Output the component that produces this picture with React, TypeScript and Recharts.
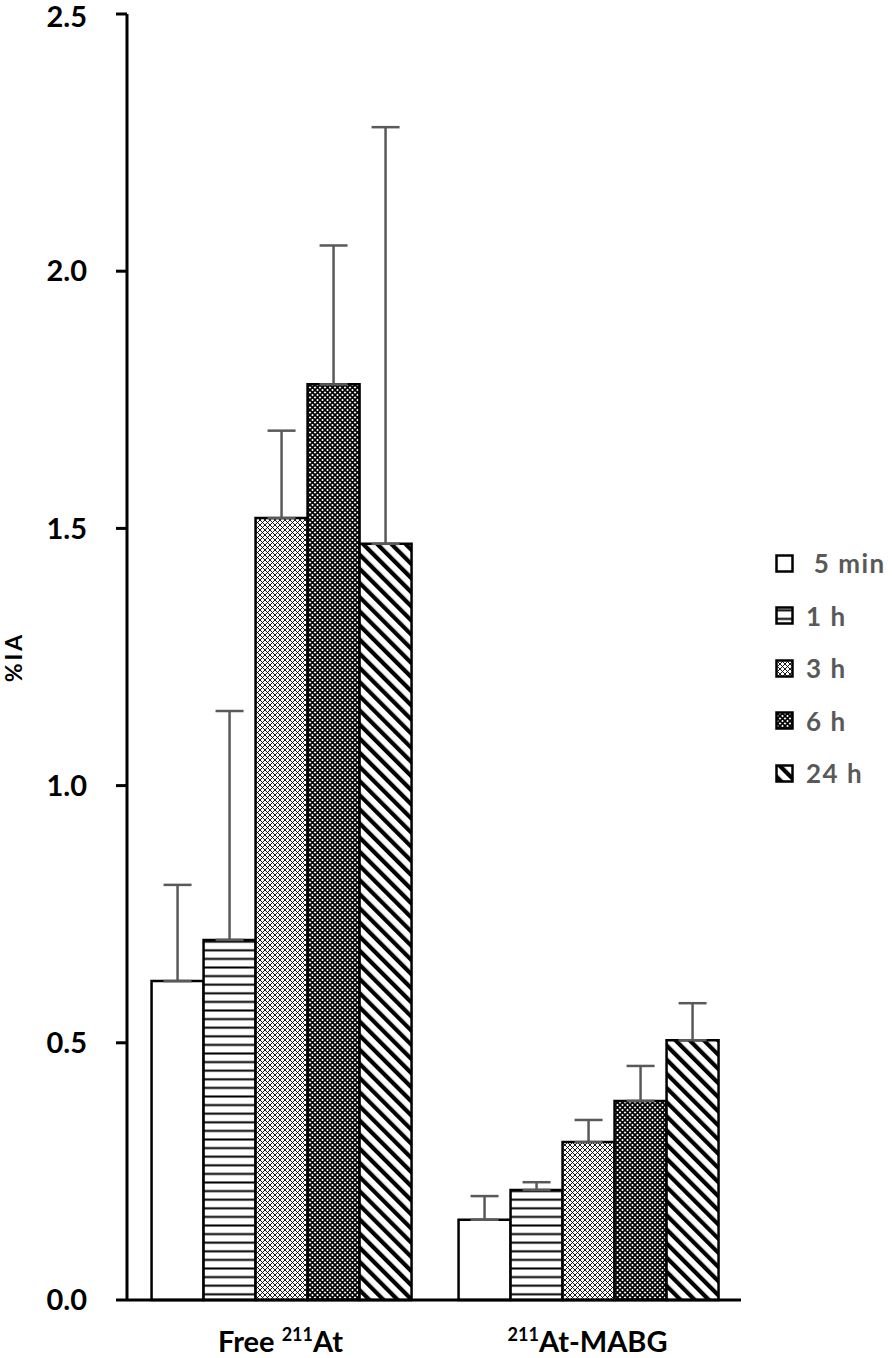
import React from 'react';
import { BarChart, Bar, XAxis, YAxis, ErrorBar } from 'recharts';

const categories = ['Free', 'MABG'];
const categoryPrefix = ['Free ', ''];
const categorySup = ['211', '211'];
const categorySuffix = ['At', 'At-MABG'];

const seriesNames = [' 5 min', '1 h', '3 h', '6 h', '24 h'];
const seriesKeys = ['m5', 'h1', 'h3', 'h6', 'h24'];

const m5 = [0.62, 0.156];
const h1 = [0.70, 0.214];
const h3 = [1.52, 0.307];
const h6 = [1.78, 0.387];
const h24 = [1.47, 0.505];

const m5Err = [0.187, 0.046];
const h1Err = [0.445, 0.015];
const h3Err = [0.17, 0.043];
const h6Err = [0.27, 0.068];
const h24Err = [0.81, 0.072];

const yTicks = [0, 0.5, 1.0, 1.5, 2.0, 2.5];

const fills = ['#ffffff', 'url(#pHlines)', 'url(#pLight)', 'url(#pDark)', 'url(#pDiag)'];

const valueArrays = [m5, h1, h3, h6, h24];
const errArrays = [m5Err, h1Err, h3Err, h6Err, h24Err];

const data = categories.map((c, i) => {
  const row: any = { name: c, idx: i };
  seriesKeys.forEach((k, s) => {
    row[k] = valueArrays[s][i];
    row[k + 'Err'] = [0, errArrays[s][i]];
  });
  return row;
});

const FONT = 'Lato, "Open Sans", sans-serif';

const Patterns = () => (
  <svg width={0} height={0} style={{ position: 'absolute' }}>
    <defs>
      <pattern id="pHlines" patternUnits="userSpaceOnUse" width={8} height={8.6}>
        <rect width={8} height={8.6} fill="#fff" />
        <rect y={3.3} width={8} height={2} fill="#000" />
      </pattern>
      <pattern id="pLight" patternUnits="userSpaceOnUse" width={5} height={5}>
        <rect width={5} height={5} fill="#fff" />
        <path d="M0,0 L5,5 M5,0 L0,5" stroke="#000" strokeWidth={0.9} />
      </pattern>
      <pattern id="pDark" patternUnits="userSpaceOnUse" width={5} height={5}>
        <rect width={5} height={5} fill="#fff" />
        <path d="M0,0 L5,5 M5,0 L0,5" stroke="#000" strokeWidth={1.7} />
      </pattern>
      <pattern id="pDiag" patternUnits="userSpaceOnUse" width={10} height={10} patternTransform="rotate(-45)">
        <rect width={10} height={10} fill="#fff" />
        <rect x={0} width={4.2} height={10} fill="#000" />
      </pattern>
    </defs>
  </svg>
);

const XTick = (props: any) => {
  const { x, y, payload } = props;
  const i = categories.indexOf(payload.value);
  return (
    <text x={x} y={y + 44} textAnchor="middle" fontFamily={FONT} fontWeight="bold" fontSize={29} fill="#000">
      {categoryPrefix[i]}
      <tspan fontSize={18} dy={-11}>{categorySup[i]}</tspan>
      <tspan dy={11}>{categorySuffix[i]}</tspan>
    </text>
  );
};

const LegendBox = () => (
  <div style={{ position: 'absolute', left: 775, top: 537, fontFamily: FONT, fontWeight: 'bold', fontSize: 26, letterSpacing: 1.5, color: '#595959' }}>
    {seriesNames.map((n, i) => (
      <div key={n} style={{ display: 'flex', alignItems: 'center', height: 52.5 }}>
        <svg width={19} height={19} style={{ marginRight: 12 }}>
          <rect x={1.5} y={1.5} width={16} height={16} fill={fills[i]} stroke="#000" strokeWidth={2.5} />
        </svg>
        <span style={{ whiteSpace: 'pre' }}>{n}</span>
      </div>
    ))}
  </div>
);

export default function App() {
  return (
    <div style={{ position: 'absolute', left: 0, top: 0, width: 894, height: 1358, background: '#fff' }}>
      <Patterns />
      <BarChart
        width={894}
        height={1358}
        data={data}
        margin={{ top: 14, right: 153, bottom: 0, left: 0 }}
        barCategoryGap="8%"
        barGap={0}
      >
        <XAxis
          dataKey="name"
          height={58}
          tickLine={false}
          axisLine={{ stroke: '#000', strokeWidth: 3 }}
          tick={<XTick />}
          interval={0}
        />
        <YAxis
          width={127}
          domain={[0, 2.5]}
          ticks={yTicks}
          tickFormatter={(v: number) => v.toFixed(1)}
          axisLine={{ stroke: '#000', strokeWidth: 3 }}
          tickLine={{ stroke: '#000', strokeWidth: 3 }}
          tickSize={11}
          tickMargin={29}
          tick={{ fontFamily: FONT, fontWeight: 'bold', fontSize: 29, fill: '#000' }}
          label={{ value: '%IA', angle: -90, position: 'insideLeft', offset: 14, style: { fontFamily: FONT, fontWeight: 'bold', fontSize: 23, letterSpacing: 3, fill: '#000', textAnchor: 'middle' } }}
        />
        {seriesKeys.map((k, i) => (
          <Bar key={k} dataKey={k} name={seriesNames[i]} fill={fills[i]} stroke="#000" strokeWidth={2.5} isAnimationActive={false}>
            <ErrorBar dataKey={k + 'Err'} width={14} stroke="#595959" strokeWidth={2.5} direction="y" />
          </Bar>
        ))}
      </BarChart>
      <LegendBox />
    </div>
  );
}
